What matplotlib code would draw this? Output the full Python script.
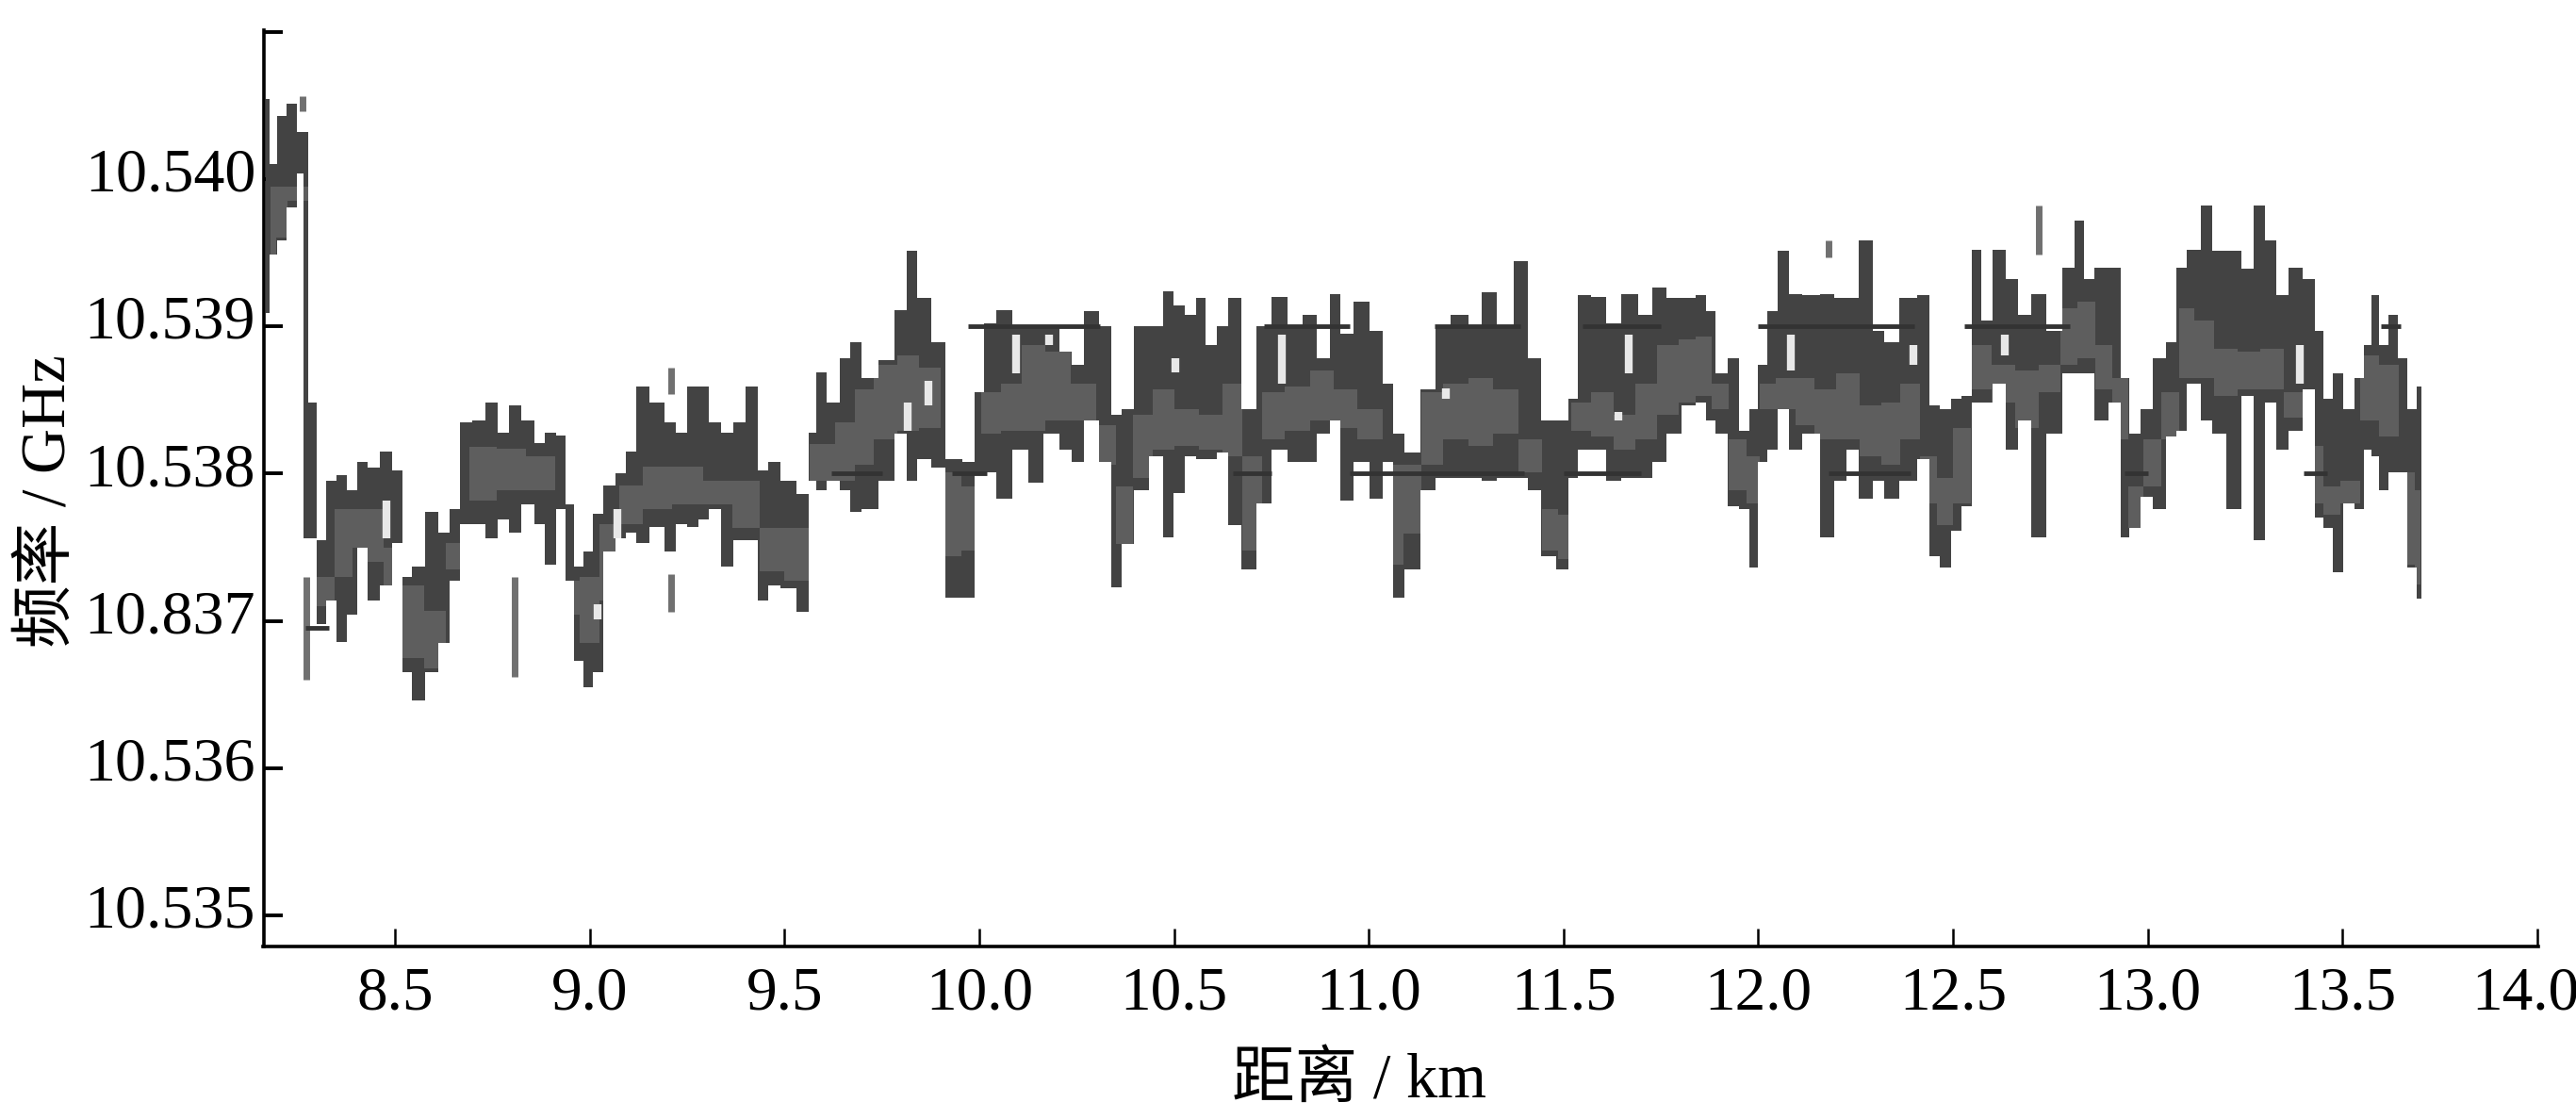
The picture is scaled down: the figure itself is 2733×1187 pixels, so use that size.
import numpy as np
import matplotlib
matplotlib.use("Agg")
import matplotlib.pyplot as plt
from matplotlib.transforms import ScaledTranslation

plt.rcParams['font.family'] = ['Liberation Serif', 'Noto Sans CJK SC', 'DejaVu Sans']

BASE_GHZ = 10.53  # envelope values below are MHz above this base

dist_km = [8.167,8.187,8.208,8.236,8.261,8.271,8.285,8.312,8.336,8.361,8.389,8.417,8.444,8.479,8.507,8.531,8.556,8.597,8.625,8.653,
8.681,8.715,8.750,8.778,8.808,8.840,8.875,8.896,8.931,8.945,8.972,8.993,9.021,9.049,9.083,9.104,9.132,9.174,9.208,9.236,
9.264,9.292,9.320,9.354,9.382,9.417,9.445,9.472,9.507,9.556,9.570,9.591,9.625,9.660,9.675,9.720,9.761,9.803,9.824,9.858,
9.893,9.935,9.977,9.997,10.025,10.060,10.109,10.143,10.185,10.227,10.248,10.289,10.324,10.352,10.380,10.414,10.456,10.486,10.511,10.546,
10.567,10.595,10.623,10.653,10.695,10.727,10.775,10.810,10.852,10.880,10.921,10.935,10.987,11.019,11.053,11.074,11.109,11.157,11.185,11.234,
11.276,11.306,11.352,11.395,11.421,11.463,11.500,11.526,11.546,11.595,11.623,11.671,11.713,11.744,11.783,11.824,11.853,11.877,11.905,11.936,
11.967,11.988,12.009,12.036,12.064,12.092,12.136,12.180,12.210,12.242,12.275,12.314,12.335,12.391,12.425,12.453,12.481,12.509,12.537,12.560,
12.585,12.620,12.651,12.683,12.720,12.759,12.801,12.823,12.849,12.877,12.923,12.940,12.967,12.995,13.030,13.065,13.083,13.117,13.155,13.178,
13.224,13.256,13.287,13.315,13.345,13.377,13.419,13.440,13.461,13.488,13.516,13.544,13.565,13.586,13.604,13.631,13.655,13.676,13.704]

upper_mhz = [10.54,10.10,10.43,10.51,10.32,10.32,8.48,7.55,7.95,7.99,7.89,8.08,8.04,8.15,8.02,7.30,7.37,7.74,7.60,7.76,
8.35,8.36,8.48,8.28,8.46,8.36,8.21,8.28,8.26,7.79,7.37,7.47,7.73,7.92,8.00,8.15,8.59,8.48,8.35,8.28,
8.59,8.59,8.35,8.28,8.35,8.59,8.02,8.08,7.95,7.86,8.28,8.69,8.48,8.78,8.89,8.65,8.77,9.11,9.51,9.19,
8.89,8.10,8.08,8.55,9.02,9.11,9.00,9.00,9.00,8.83,8.74,9.10,9.00,8.40,8.44,9.00,9.00,9.24,9.14,9.08,
9.19,8.87,9.00,9.19,8.44,9.00,9.20,9.00,9.08,8.78,9.22,8.95,9.17,8.97,8.61,8.27,8.14,8.57,9.00,9.08,
9.00,9.23,9.00,9.44,8.78,8.36,8.36,8.51,9.21,9.20,9.02,9.22,9.08,9.26,9.19,9.19,9.21,9.10,8.68,8.78,
8.29,8.44,8.74,9.10,9.51,9.22,9.21,9.22,9.19,9.19,9.58,8.97,8.89,9.19,9.21,8.46,8.44,8.51,8.53,9.52,
9.04,9.52,9.32,9.08,9.22,8.97,9.40,9.72,9.32,9.40,9.40,8.65,8.27,8.44,8.78,8.89,9.40,9.52,9.82,9.51,
9.51,9.39,9.82,9.58,9.21,9.40,9.32,8.97,8.51,8.68,8.44,8.65,8.87,9.21,8.87,9.08,8.78,8.44,8.59]

lower_mhz = [9.09,9.49,9.58,9.81,10.04,7.56,7.56,6.98,7.14,6.86,7.04,7.50,7.14,7.24,7.53,6.65,6.46,6.65,6.85,7.27,
7.66,7.66,7.56,7.69,7.60,7.79,7.66,7.38,7.76,7.27,6.73,6.55,6.65,7.47,7.56,7.60,7.53,7.64,7.47,7.66,
7.64,7.69,7.76,7.37,7.55,7.55,7.14,7.24,7.22,7.06,7.95,7.89,7.95,7.89,7.74,7.76,7.95,8.27,7.95,8.10,
8.04,7.16,7.16,8.01,8.01,7.83,8.16,7.94,8.27,8.16,8.08,8.36,8.08,7.23,7.52,7.89,8.12,7.57,7.87,8.12,
8.10,8.10,8.14,7.65,7.35,7.80,8.16,8.08,8.08,8.27,8.36,7.82,8.08,7.83,8.08,7.16,7.35,7.89,7.97,7.97,
7.97,7.95,7.97,7.97,7.89,7.44,7.35,7.97,8.16,8.16,7.95,7.97,7.97,8.08,8.27,8.46,8.48,8.36,8.27,7.78,
7.76,7.36,8.08,8.16,8.44,8.16,8.27,7.57,7.95,8.16,7.83,7.95,7.83,7.95,8.10,7.44,7.36,7.61,7.78,8.48,
8.48,8.61,8.16,8.36,7.57,8.27,8.68,8.68,8.68,8.36,8.48,7.57,7.63,7.84,7.76,8.25,8.29,8.61,8.36,8.27,
7.76,8.53,7.55,8.48,8.16,8.29,8.57,7.70,7.63,7.33,7.80,7.76,8.16,8.12,7.89,8.01,8.01,7.36,7.15]

core_km = [8.18,8.21,8.236,8.32,8.37,8.41,8.45,8.49,8.55,8.60,8.66,8.72,8.80,8.87,8.95,9.00,9.05,9.10,9.17,9.25,
9.33,9.40,9.47,9.53,9.60,9.66,9.70,9.76,9.82,9.87,9.93,9.98,10.03,10.08,10.14,10.20,10.27,10.33,10.37,10.42,
10.47,10.53,10.60,10.65,10.70,10.75,10.82,10.88,10.94,11.00,11.07,11.11,11.16,11.22,11.29,11.35,11.42,11.47,11.50,11.54,
11.60,11.66,11.71,11.77,11.82,11.86,11.90,11.95,11.99,12.02,12.07,12.12,12.17,12.23,12.29,12.34,12.39,12.44,12.48,12.52,
12.57,12.63,12.69,12.75,12.80,12.84,12.89,12.93,12.97,13.01,13.06,13.10,13.14,13.20,13.26,13.32,13.38,13.43,13.47,13.52,
13.57,13.62,13.67,13.70]
core_hi = [9.95,9.95,9.95,7.30,7.76,7.76,7.76,7.50,7.24,7.07,7.53,8.18,8.17,8.12,7.27,7.30,7.66,7.92,8.05,8.05,
7.95,7.95,7.63,7.63,8.20,8.35,8.57,8.74,8.80,8.72,8.01,7.91,8.55,8.61,8.87,8.83,8.61,8.33,7.91,8.40,
8.57,8.44,8.40,8.61,8.12,8.55,8.59,8.70,8.57,8.44,8.06,8.06,8.55,8.61,8.65,8.57,8.23,7.76,7.72,8.48,
8.55,8.40,8.61,8.87,8.91,8.93,8.61,8.23,8.12,8.61,8.65,8.65,8.57,8.68,8.46,8.48,8.61,8.12,7.97,8.31,
8.87,8.74,8.70,8.74,9.12,9.17,8.87,8.65,7.91,8.23,8.55,9.12,9.04,8.85,8.83,8.85,8.55,8.19,7.91,7.95,
8.80,8.74,8.01,7.89]
core_lo = [9.40,9.60,9.85,7.10,7.30,7.50,7.40,7.24,6.75,6.68,7.35,7.82,7.89,7.89,7.04,6.85,7.14,7.66,7.76,7.79,
7.79,7.63,7.34,7.27,7.95,7.95,8.06,8.23,8.29,8.31,7.44,7.48,8.27,8.29,8.29,8.36,8.36,8.06,7.52,7.97,
8.16,8.19,8.16,8.12,7.48,8.23,8.29,8.36,8.31,8.23,7.38,7.59,8.06,8.23,8.19,8.27,8.01,7.48,7.42,8.29,
8.25,8.16,8.23,8.40,8.48,8.53,8.44,7.89,7.80,8.44,8.44,8.33,8.23,8.23,8.12,8.06,8.23,7.80,7.65,7.80,
8.57,8.48,8.31,8.55,8.74,8.78,8.57,8.23,7.63,7.91,8.23,8.65,8.65,8.53,8.57,8.57,8.38,7.80,7.72,7.80,
8.36,8.25,7.38,7.25]

# isolated vertical fragments: km, low MHz, high MHz
frag_km = [8.262,8.271,8.808,9.208,9.208,12.180,12.720]
frag_lo = [10.46,6.60,6.62,8.54,7.06,9.47,9.49]
frag_hi = [10.56,7.30,7.30,8.72,7.32,9.58,9.82]

# dark horizontal dashes: start km, end km, MHz
dash_start = [8.27,9.97,10.73,11.17,11.55,12.00,12.53,13.60,9.62,9.93,10.65,10.95,11.50,12.18,12.94,13.40]
dash_end   = [8.33,10.31,10.95,11.39,11.75,12.40,12.80,13.65,9.75,10.02,10.75,11.40,11.70,12.39,13.00,13.46]
dash_mhz   = [6.95,9.00,9.00,9.00,9.00,9.00,9.00,9.00,8.00,8.00,8.00,8.00,8.00,8.00,8.00,8.00]

# light gaps inside the trace: km, low MHz, high MHz
gap_km = [8.479,9.021,9.070,9.816,9.870,10.095,10.178,10.504,10.776,11.199,11.640,11.667,12.083,12.398,12.633,13.390]
gap_lo = [7.56,7.01,7.56,8.29,8.46,8.68,8.87,8.69,8.61,8.51,8.36,8.68,8.70,8.74,8.80,8.61]
gap_hi = [7.82,7.11,7.76,8.48,8.63,8.94,8.94,8.78,8.94,8.58,8.42,8.94,8.94,8.87,8.94,8.87]

x_ticks = [8.5,9.0,9.5,10.0,10.5,11.0,11.5,12.0,12.5,13.0,13.5,14.0]
x_labels = ['8.5','9.0','9.5','10.0','10.5','11.0','11.5','12.0','12.5','13.0','13.5','14.0']
y_ticks = [10.535,10.536,10.537,10.538,10.539,10.540,10.541]
y_labels = ['10.535','10.536','10.837','10.538','10.539','10.540','']

def ghz(values):
    return BASE_GHZ + np.asarray(values) / 1000.0

W, H = 2733, 1187
fig = plt.figure(figsize=(W/100, H/100), dpi=100)
ax = fig.add_axes([279.5/W, 1-1004/H, (2693-279.5)/W, (1004-32)/H])

DARK, CORE = '#434343', '#5e5e5e'
band = ax.fill_between(dist_km, ghz(lower_mhz), ghz(upper_mhz), step='mid', color=DARK, lw=0, zorder=2)
core = ax.fill_between(core_km, ghz(core_lo), ghz(core_hi), step='mid', color=CORE, lw=0, zorder=3)
core.set_clip_path(band.get_paths()[0], band.get_transform())
ax.vlines(frag_km, ghz(frag_lo), ghz(frag_hi), color='#707070', lw=5, zorder=3)
ax.hlines(ghz(dash_mhz), dash_start, dash_end, color='#333333', lw=3.5, zorder=4)
ax.vlines(gap_km, ghz(gap_lo), ghz(gap_hi), color='#e8e8e8', lw=6, zorder=5)

ax.set_xlim(8.162, 14.003)
ax.set_ylim(10.53479, 10.54101)
for s in ('top', 'right'):
    ax.spines[s].set_visible(False)
for s in ('left', 'bottom'):
    ax.spines[s].set_linewidth(2.6)

ax.set_xticks(x_ticks, x_labels)
ax.set_yticks(y_ticks, y_labels)
ax.tick_params(axis='x', direction='in', length=13.7, width=1.8, labelsize=47, pad=15)
ax.tick_params(axis='y', direction='in', length=14.4, width=2.8, labelsize=47.5, pad=6)
up = ScaledTranslation(0, 10/100, fig.dpi_scale_trans)
for lab in ax.get_yticklabels():
    lab.set_transform(lab.get_transform() + up)
last = ax.get_xticklabels()[-1]
last.set_transform(last.get_transform() + ScaledTranslation(-12/100, 0, fig.dpi_scale_trans))

fig.text(52/W, 1-532/H, '频率 / GHz', rotation=90, ha='center', va='center', fontsize=48)
fig.text(1442/W, 1-1147/H, '距离 / km', ha='center', va='center', fontsize=48)

fig.savefig('out.png', dpi=100, facecolor='white')
